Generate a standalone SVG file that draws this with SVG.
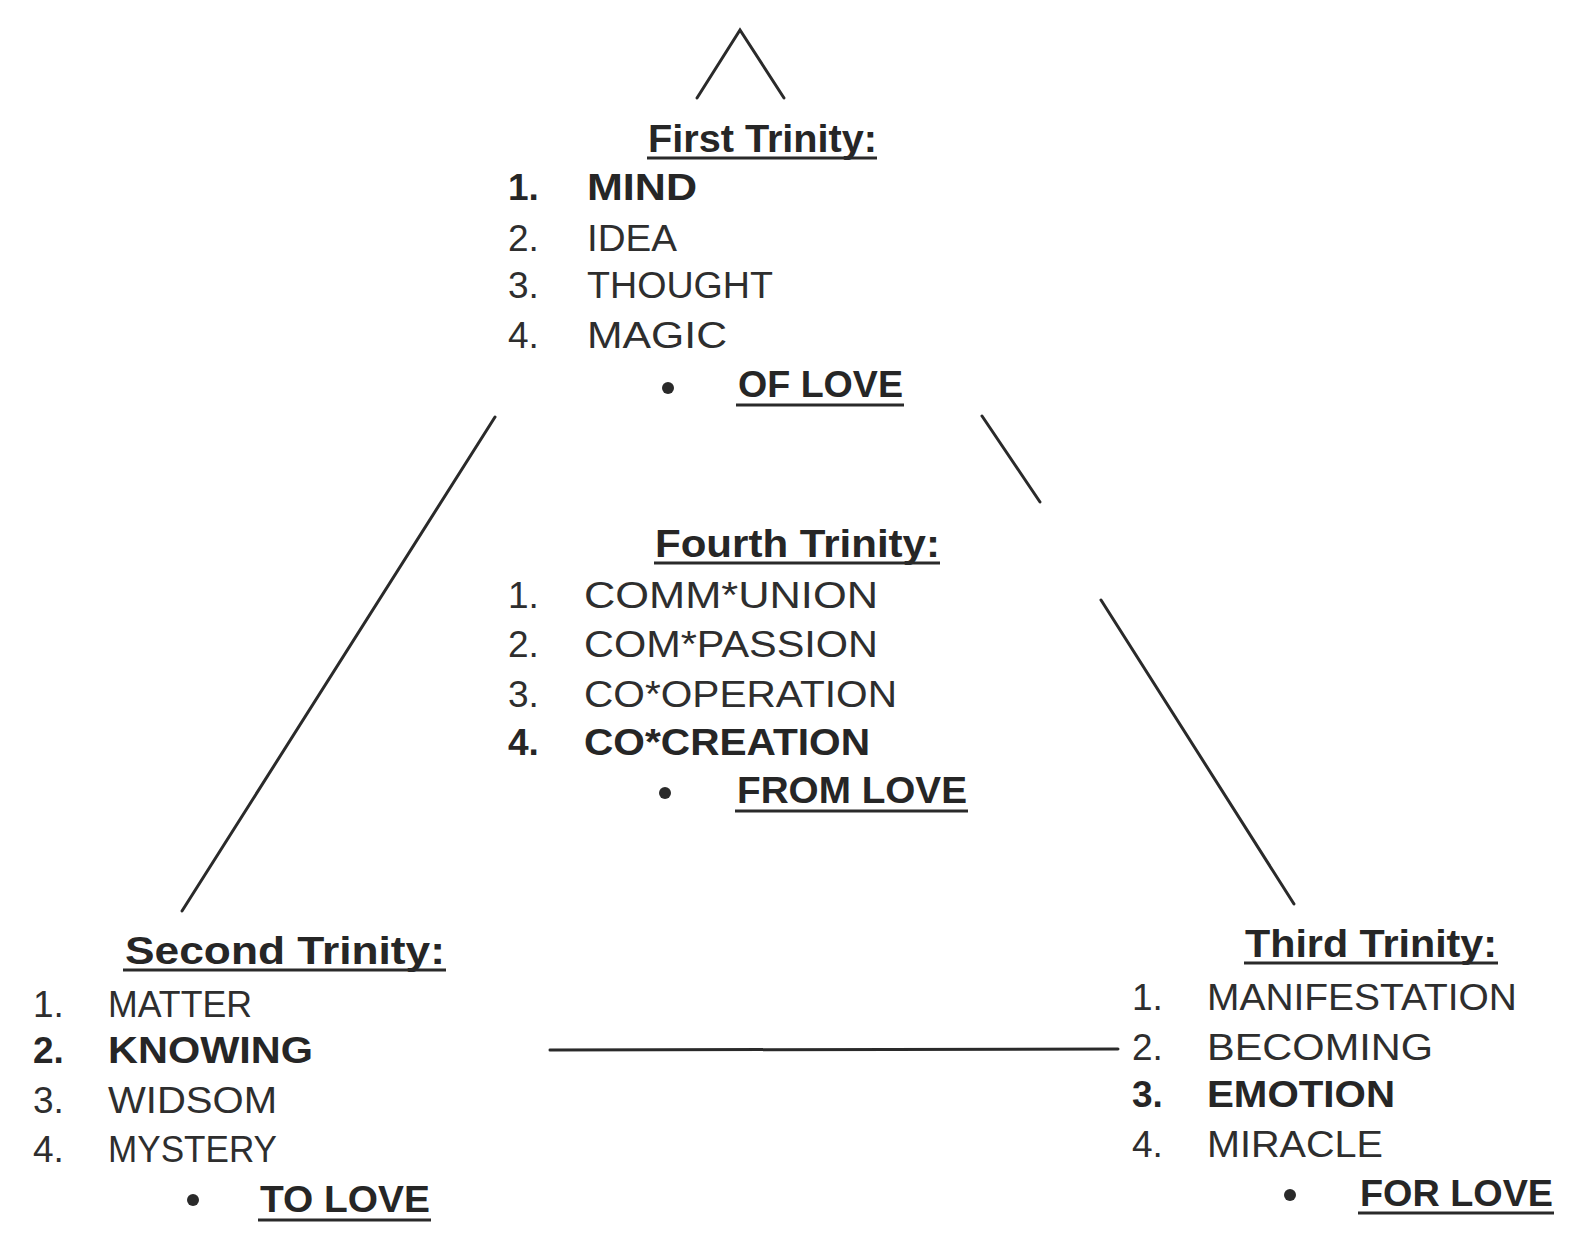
<svg xmlns="http://www.w3.org/2000/svg" width="1592" height="1248" viewBox="0 0 1592 1248">
<style>
text{font-family:"Liberation Sans",Arial,sans-serif;fill:#2e2e2e}
.t{font-size:39px;font-weight:bold;fill:#262626}
.i{font-size:37px}
.b{font-size:37px;font-weight:bold;fill:#262626}
.l{font-size:37px;font-weight:bold;fill:#262626}
.u{stroke:#2a2a2a;stroke-width:3}
.e{stroke:#2a2a2a;stroke-width:3;fill:none;stroke-linecap:round}
.d{fill:#2a2a2a}
</style>
<rect width="1592" height="1248" fill="#ffffff"/>
<g id="connectors">
<polyline class="e" points="697,98 740,30 784,98"/>
<line class="e" x1="495" y1="417" x2="182" y2="911"/>
<line class="e" x1="982" y1="416" x2="1040" y2="502"/>
<line class="e" x1="1101" y1="600" x2="1294" y2="904"/>
<line class="e" x1="550" y1="1050" x2="1118" y2="1049"/>
</g>
<g id="first-trinity">
<text class="t" x="648" y="152" textLength="229" lengthAdjust="spacingAndGlyphs">First Trinity:</text>
<line class="u" x1="647" y1="158" x2="877" y2="158"/>
<text class="b" x="508" y="200">1.</text><text class="b" x="587" y="200" textLength="110" lengthAdjust="spacingAndGlyphs">MIND</text>
<text class="i" x="508" y="251">2.</text><text class="i" x="587" y="251" textLength="90" lengthAdjust="spacingAndGlyphs">IDEA</text>
<text class="i" x="508" y="298">3.</text><text class="i" x="587" y="298" textLength="186" lengthAdjust="spacingAndGlyphs">THOUGHT</text>
<text class="i" x="508" y="348">4.</text><text class="i" x="587" y="348" textLength="140" lengthAdjust="spacingAndGlyphs">MAGIC</text>
<circle class="d" cx="668" cy="388" r="6"/>
<text class="l" x="738" y="397" textLength="165" lengthAdjust="spacingAndGlyphs">OF LOVE</text>
<line class="u" x1="736" y1="405" x2="904" y2="405"/>
</g>
<g id="fourth-trinity">
<text class="t" x="655" y="557" textLength="285" lengthAdjust="spacingAndGlyphs">Fourth Trinity:</text>
<line class="u" x1="654" y1="563" x2="940" y2="563"/>
<text class="i" x="508" y="608">1.</text><text class="i" x="584" y="608" textLength="294" lengthAdjust="spacingAndGlyphs">COMM*UNION</text>
<text class="i" x="508" y="657">2.</text><text class="i" x="584" y="657" textLength="294" lengthAdjust="spacingAndGlyphs">COM*PASSION</text>
<text class="i" x="508" y="707">3.</text><text class="i" x="584" y="707" textLength="313" lengthAdjust="spacingAndGlyphs">CO*OPERATION</text>
<text class="b" x="508" y="755">4.</text><text class="b" x="584" y="755" textLength="286" lengthAdjust="spacingAndGlyphs">CO*CREATION</text>
<circle class="d" cx="665" cy="793" r="6"/>
<text class="l" x="737" y="803" textLength="230" lengthAdjust="spacingAndGlyphs">FROM LOVE</text>
<line class="u" x1="735" y1="811" x2="968" y2="811"/>
</g>
<g id="second-trinity">
<text class="t" x="125" y="964" textLength="320" lengthAdjust="spacingAndGlyphs">Second Trinity:</text>
<line class="u" x1="123" y1="970" x2="446" y2="970"/>
<text class="i" x="33" y="1017">1.</text><text class="i" x="108" y="1017" textLength="144" lengthAdjust="spacingAndGlyphs">MATTER</text>
<text class="b" x="33" y="1063">2.</text><text class="b" x="108" y="1063" textLength="205" lengthAdjust="spacingAndGlyphs">KNOWING</text>
<text class="i" x="33" y="1113">3.</text><text class="i" x="108" y="1113" textLength="169" lengthAdjust="spacingAndGlyphs">WIDSOM</text>
<text class="i" x="33" y="1162">4.</text><text class="i" x="108" y="1162" textLength="169" lengthAdjust="spacingAndGlyphs">MYSTERY</text>
<circle class="d" cx="193" cy="1200" r="6"/>
<text class="l" x="260" y="1212" textLength="170" lengthAdjust="spacingAndGlyphs">TO LOVE</text>
<line class="u" x1="258" y1="1220" x2="431" y2="1220"/>
</g>
<g id="third-trinity">
<text class="t" x="1245" y="957" textLength="252" lengthAdjust="spacingAndGlyphs">Third Trinity:</text>
<line class="u" x1="1244" y1="963" x2="1498" y2="963"/>
<text class="i" x="1132" y="1010">1.</text><text class="i" x="1207" y="1010" textLength="310" lengthAdjust="spacingAndGlyphs">MANIFESTATION</text>
<text class="i" x="1132" y="1060">2.</text><text class="i" x="1207" y="1060" textLength="226" lengthAdjust="spacingAndGlyphs">BECOMING</text>
<text class="b" x="1132" y="1107">3.</text><text class="b" x="1207" y="1107" textLength="188" lengthAdjust="spacingAndGlyphs">EMOTION</text>
<text class="i" x="1132" y="1157">4.</text><text class="i" x="1207" y="1157" textLength="176" lengthAdjust="spacingAndGlyphs">MIRACLE</text>
<circle class="d" cx="1290" cy="1195" r="6"/>
<text class="l" x="1360" y="1206" textLength="193" lengthAdjust="spacingAndGlyphs">FOR LOVE</text>
<line class="u" x1="1358" y1="1213" x2="1554" y2="1213"/>
</g>
</svg>
